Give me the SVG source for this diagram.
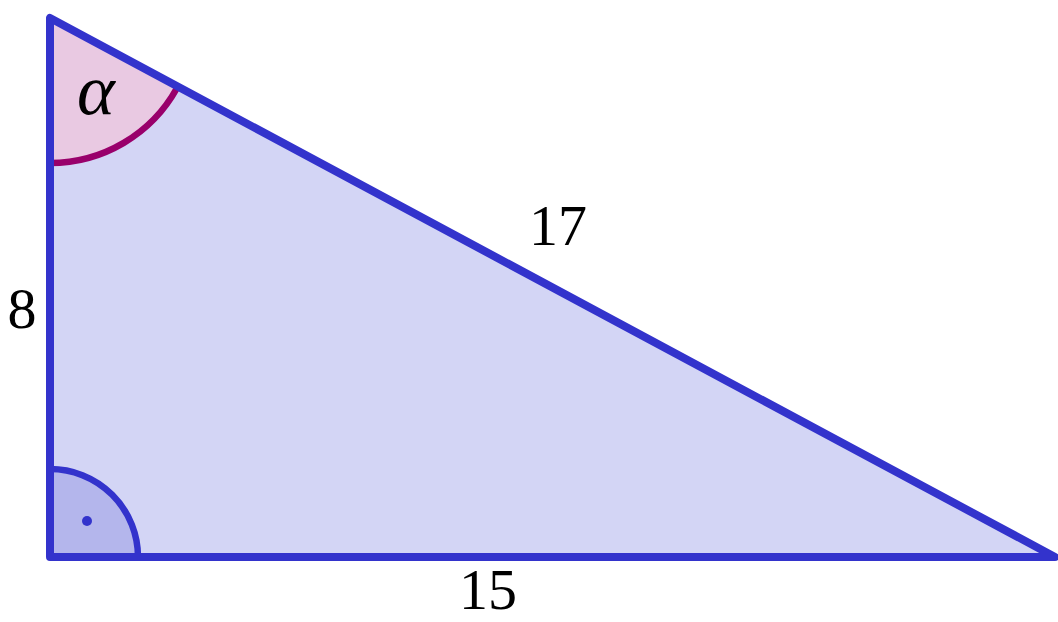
<svg xmlns="http://www.w3.org/2000/svg" width="1058" height="622" viewBox="0 0 1058 622">
<style>
.lbl{font-family:"Liberation Serif","DejaVu Serif",serif;font-size:58px;fill:#000;text-anchor:middle}
.greek{font-style:italic;font-size:72px}
</style>
<rect width="1058" height="622" fill="#fff"/>
<g id="triangle">
<polygon points="50,18 50,557 1055,557" fill="#d3d5f5"/>
</g>
<g id="angle-alpha">
<path d="M50,18 L50,163 A145,145 0 0 0 177,88 Z" fill="#e9c9e2"/>
<path d="M50,163 A145,145 0 0 0 177,88" fill="none" stroke="#99006b" stroke-width="6.5"/>
</g>
<g id="angle-right">
<path d="M50,557 L50,469 A88,88 0 0 1 138,557 Z" fill="#b4b6ec"/>
<path d="M50,469 A88,88 0 0 1 138,557" fill="none" stroke="#3333cc" stroke-width="6.5"/>
<circle cx="87" cy="521" r="5" fill="#3333cc"/>
</g>
<g id="edges">
<polygon points="50,18 50,557 1055,557" fill="none" stroke="#3333cc" stroke-width="8" stroke-linejoin="round"/>
</g>
<g id="labels">
<text class="lbl" x="22" y="328">8</text>
<text class="lbl" x="488" y="609">15</text>
<text class="lbl" x="558" y="245">17</text>
<text class="lbl greek" x="96" y="114">α</text>
</g>
</svg>
